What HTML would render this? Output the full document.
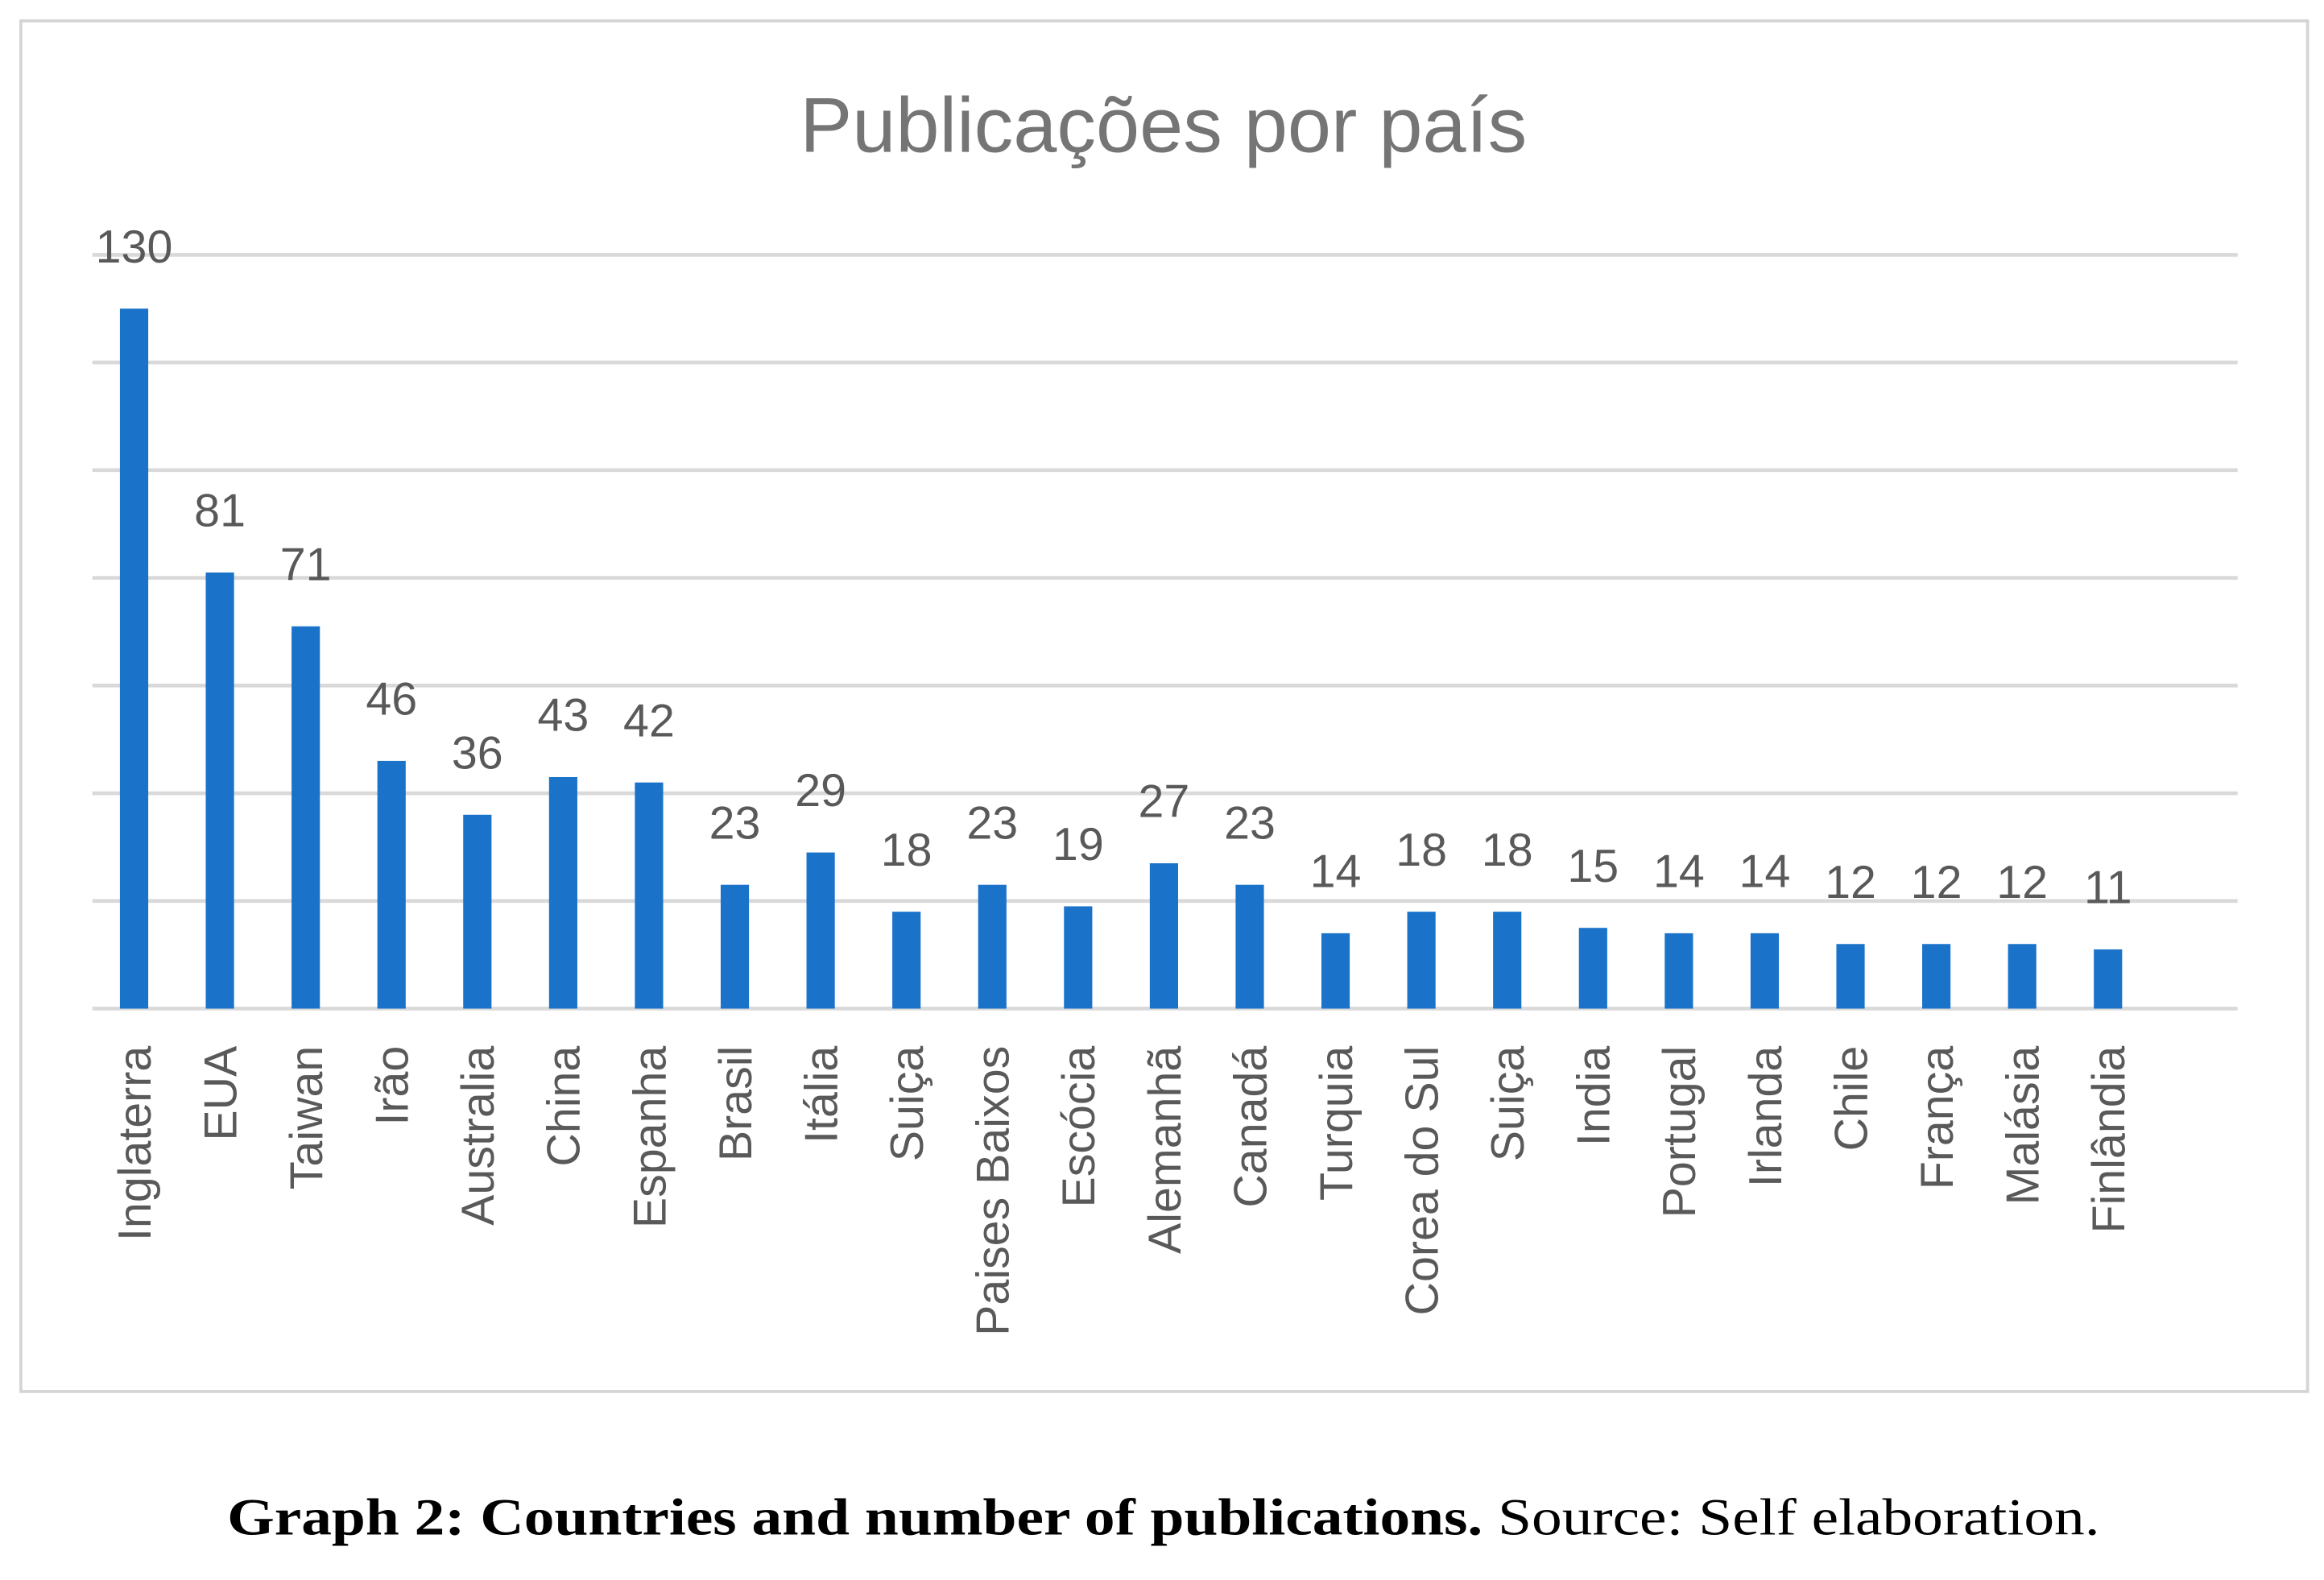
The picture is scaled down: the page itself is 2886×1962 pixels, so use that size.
<!DOCTYPE html>
<html><head><meta charset="utf-8"><style>
html,body{margin:0;padding:0;background:#fff;}
svg{display:block;}
</style></head><body>
<svg id="chart" width="2886" height="1962" viewBox="0 0 1560 1060.5" xmlns="http://www.w3.org/2000/svg">
<rect x="14" y="14" width="1535" height="920" fill="#fff" stroke="#d4d4d4" stroke-width="2"/>
<text x="781" y="102" text-anchor="middle" font-family="Liberation Sans, sans-serif" font-size="52" fill="#757575" textLength="488" lengthAdjust="spacingAndGlyphs">Publicações por país</text>
<g id="grid"></g><g id="bars"></g><g id="vals"></g><g id="cats"></g>
<text x="781" y="1030" text-anchor="middle" font-family="Liberation Serif, serif" font-size="35" fill="#000" textLength="1257" lengthAdjust="spacingAndGlyphs"><tspan font-weight="bold">Graph 2: Countries and number of publications.</tspan> Source: Self elaboration.</text>
</svg>
<script>
const categories=["Inglaterra","EUA","Taiwan","Irão","Australia","China","Espanha","Brasil","Itália","Suiça","Paises Baixos","Escócia","Alemanhã","Canadá","Turquia","Corea do Sul","Suiça","India","Portugal","Irlanda","Chile","França","Malásia","Finlândia"];
const values=[130,81,71,46,36,43,42,23,29,18,23,19,27,23,14,18,18,15,14,14,12,12,12,11];
const gridTicks=[0,20,40,60,80,100,120,140];
const NS="http://www.w3.org/2000/svg";
const y0=677, unit=(677-171)/140, x0=90, step=(1415-90)/(categories.length-1), bw=19;
const yS=v=>y0-v*unit, xS=i=>x0+i*step;
function mk(t,a,p){const e=document.createElementNS(NS,t);for(const k in a)e.setAttribute(k,a[k]);document.getElementById(p).appendChild(e);return e;}
gridTicks.forEach(t=>{
 const l=mk('line',{x1:62,x2:1502,y1:yS(t),y2:yS(t),stroke:'#d9d9d9','stroke-width':2.5},'grid');
 
 
});
categories.forEach((c,i)=>{
 const v=values[i], cx=xS(i);
 const r=mk('rect',{x:cx-bw/2,y:yS(v),width:bw,height:y0-yS(v),fill:'#1a73c9'},'bars');
 
 
 const t=mk('text',{x:cx,y:yS(v)-31,'text-anchor':'middle','font-family':'Liberation Sans, sans-serif','font-size':31,fill:'#595959'},'vals');
 t.textContent=v;
 
 
 const k=mk('text',{x:0,y:0,'text-anchor':'end','font-family':'Liberation Sans, sans-serif','font-size':31,fill:'#595959',transform:`translate(${cx+11},702) rotate(-90)`},'cats');
 k.textContent=c;
 
 
});
</script>
</body></html>
